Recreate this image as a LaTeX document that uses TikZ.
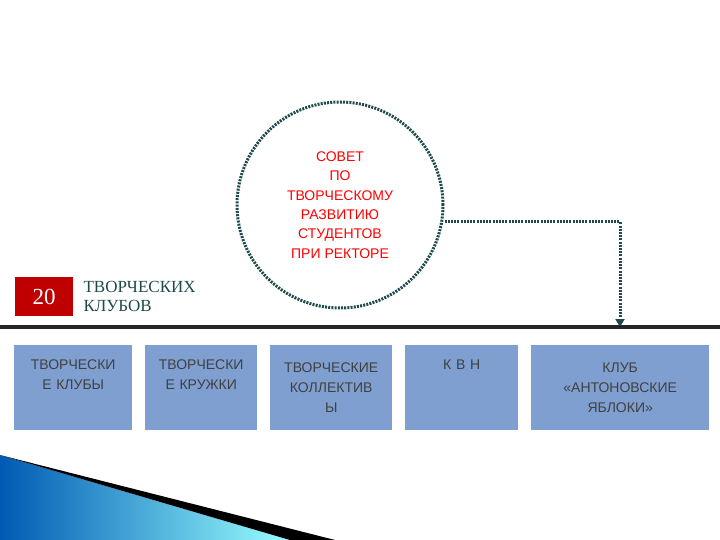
\documentclass[tikz,border=0pt]{standalone}
\usepackage{fontspec}
\setmainfont{Liberation Serif}
\newfontfamily\sansf{Liberation Sans}
\usetikzlibrary{arrows.meta}
\definecolor{boxblue}{HTML}{7F9FD1}
\definecolor{teal}{HTML}{1F4A4A}
\definecolor{dred}{HTML}{C00000}
\begin{document}
\begin{tikzpicture}[x=1pt,y=-1pt,
  club/.style={fill=boxblue,draw=none,minimum height=85pt,anchor=north west,inner sep=2pt,
    font=\sansf\fontsize{14}{20}\selectfont,text=black!75,align=center},
  dotline/.style={draw=teal,line width=3pt,dash pattern=on 2pt off 1.2pt}]
\useasboundingbox (0,0) rectangle (720,540);
% decoration
\shade[left color=cyan!50!blue!70!black,right color=cyan!40!white] (0,455) -- (290,540) -- (0,540) -- cycle;
\fill[black] (0,455) -- (335,540) -- (290,540) -- cycle;
% circle
\node[circle,minimum size=206pt,dotline,align=center,text=red,
  font=\sansf\fontsize{14}{19.3}\selectfont] (c) at (340,205)
  {СОВЕТ\\ПО\\ТВОРЧЕСКОМУ\\РАЗВИТИЮ\\СТУДЕНТОВ\\ПРИ РЕКТОРЕ};
\coordinate (t) at (620,327);
\draw[dotline,-{Triangle[length=8pt,width=9pt]}] (c.east |- 0,222) -| (t);
% horizontal line
\draw[line width=3.5pt,black!85] (0,327) -- (720,327);
% 20 clubs
\node[fill=dred,minimum width=58pt,minimum height=39pt,anchor=north west,text=white,
  font=\fontsize{23}{24}\selectfont] (n) at (15,277) {20};
\node[anchor=west,align=left,text=teal,font=\fontsize{17}{19}\selectfont] (lbl) at (80,296) {ТВОРЧЕСКИХ\\КЛУБОВ};
% boxes
\node[club,minimum width=118pt,text width=114pt] (b1) at (14,345) {ТВОРЧЕСКИ\\Е КЛУБЫ\\\strut};
\node[club,minimum width=112pt,text width=108pt] (b2) at (145,345) {ТВОРЧЕСКИ\\Е КРУЖКИ\\\strut};
\node[club,minimum width=122pt,text width=118pt] (b3) at (270,345) {ТВОРЧЕСКИЕ\\КОЛЛЕКТИВ\\Ы};
\node[club,minimum width=113pt,text width=109pt] (b4) at (405,345) {К В Н\\\strut\\\strut};
\node[club,minimum width=178pt,text width=174pt] (b5) at (531,345) {КЛУБ\\«АНТОНОВСКИЕ\\ЯБЛОКИ»};
\end{tikzpicture}
\end{document}
